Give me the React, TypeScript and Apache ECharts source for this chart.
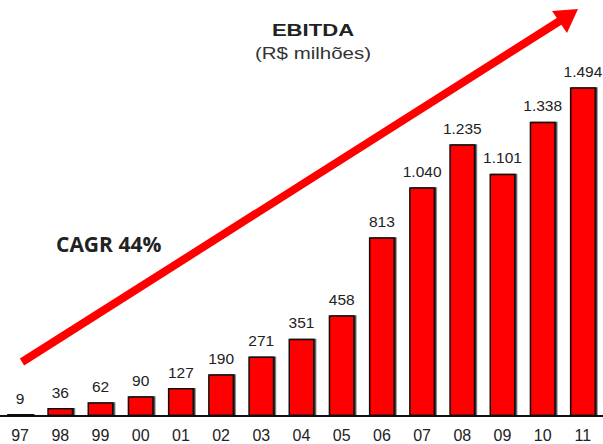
import React, { useEffect, useRef } from "react";
import * as echarts from "echarts";

const categories = ["97", "98", "99", "00", "01", "02", "03", "04", "05", "06", "07", "08", "09", "10", "11"];
const ebitda = [9, 36, 62, 90, 127, 190, 271, 351, 458, 813, 1040, 1235, 1101, 1338, 1494];
const titleText = "EBITDA";
const subtitleText = "(R$ milhões)";
const cagrText = "CAGR 44%";

const fmt = (v: number) => String(v).replace(/\B(?=(\d{3})+(?!\d))/g, ".");

export default function App() {
  const ref = useRef<HTMLDivElement>(null);
  useEffect(() => {
    if (!ref.current) return;
    const chart = echarts.init(ref.current, null, { renderer: "svg" });
    chart.setOption({
      animation: false,
      backgroundColor: "#fff",
      grid: { left: 0, right: -3, top: 64, bottom: 28, containLabel: false },
      xAxis: {
        type: "category",
        data: categories,
        axisLine: { show: true, lineStyle: { color: "#111", width: 2 } },
        axisTick: { show: false },
        axisLabel: { color: "#222", fontSize: 16, fontFamily: "Liberation Sans, Arial", margin: 11 },
      },
      yAxis: {
        type: "value",
        min: 0,
        max: 1600,
        show: false,
        splitLine: { show: false },
      },
      series: [
        {
          type: "bar",
          data: ebitda,
          barWidth: 26,
          itemStyle: {
            color: "#ff0000",
            borderColor: "#111",
            borderWidth: 1.5,
            shadowColor: "rgba(0,0,0,0.8)",
            shadowOffsetX: 1.5,
            shadowOffsetY: 0,
            shadowBlur: 0,
          },
          label: {
            show: true,
            position: "top",
            distance: 8,
            color: "#222",
            fontSize: 15.5,
            fontFamily: "Liberation Sans, Arial",
            formatter: (p: any) => fmt(p.value),
          },
        },
      ],
      graphic: [
        {
          type: "line",
          shape: { x1: 22, y1: 362, x2: 566, y2: 17 },
          style: { stroke: "#ff0000", lineWidth: 8 },
          z: 10,
        },
        {
          type: "polygon",
          shape: { points: [[578, 9], [552, 11], [567, 33]] },
          style: { fill: "#ff0000" },
          z: 10,
        },
        {
          type: "text",
          x: 313,
          y: 30,
          scaleX: 1.3,
          style: {
            text: titleText,
            fill: "#222",
            font: "bold 17px 'Liberation Sans', Arial",
            align: "center",
            verticalAlign: "middle",
          },
        },
        {
          type: "text",
          x: 313,
          y: 53,
          scaleX: 1.28,
          style: {
            text: subtitleText,
            fill: "#333",
            font: "16px 'Liberation Sans', Arial",
            align: "center",
            verticalAlign: "middle",
          },
        },
        {
          type: "text",
          x: 56,
          y: 244,
          style: {
            text: cagrText,
            fill: "#222",
            font: "bold 21px 'Open Sans', 'Liberation Sans'",
            align: "left",
            verticalAlign: "middle",
          },
        },
      ],
    });
    return () => chart.dispose();
  }, []);
  return <div ref={ref} style={{ position: "fixed", left: 0, top: 0, width: 603, height: 444 }} />;
}
